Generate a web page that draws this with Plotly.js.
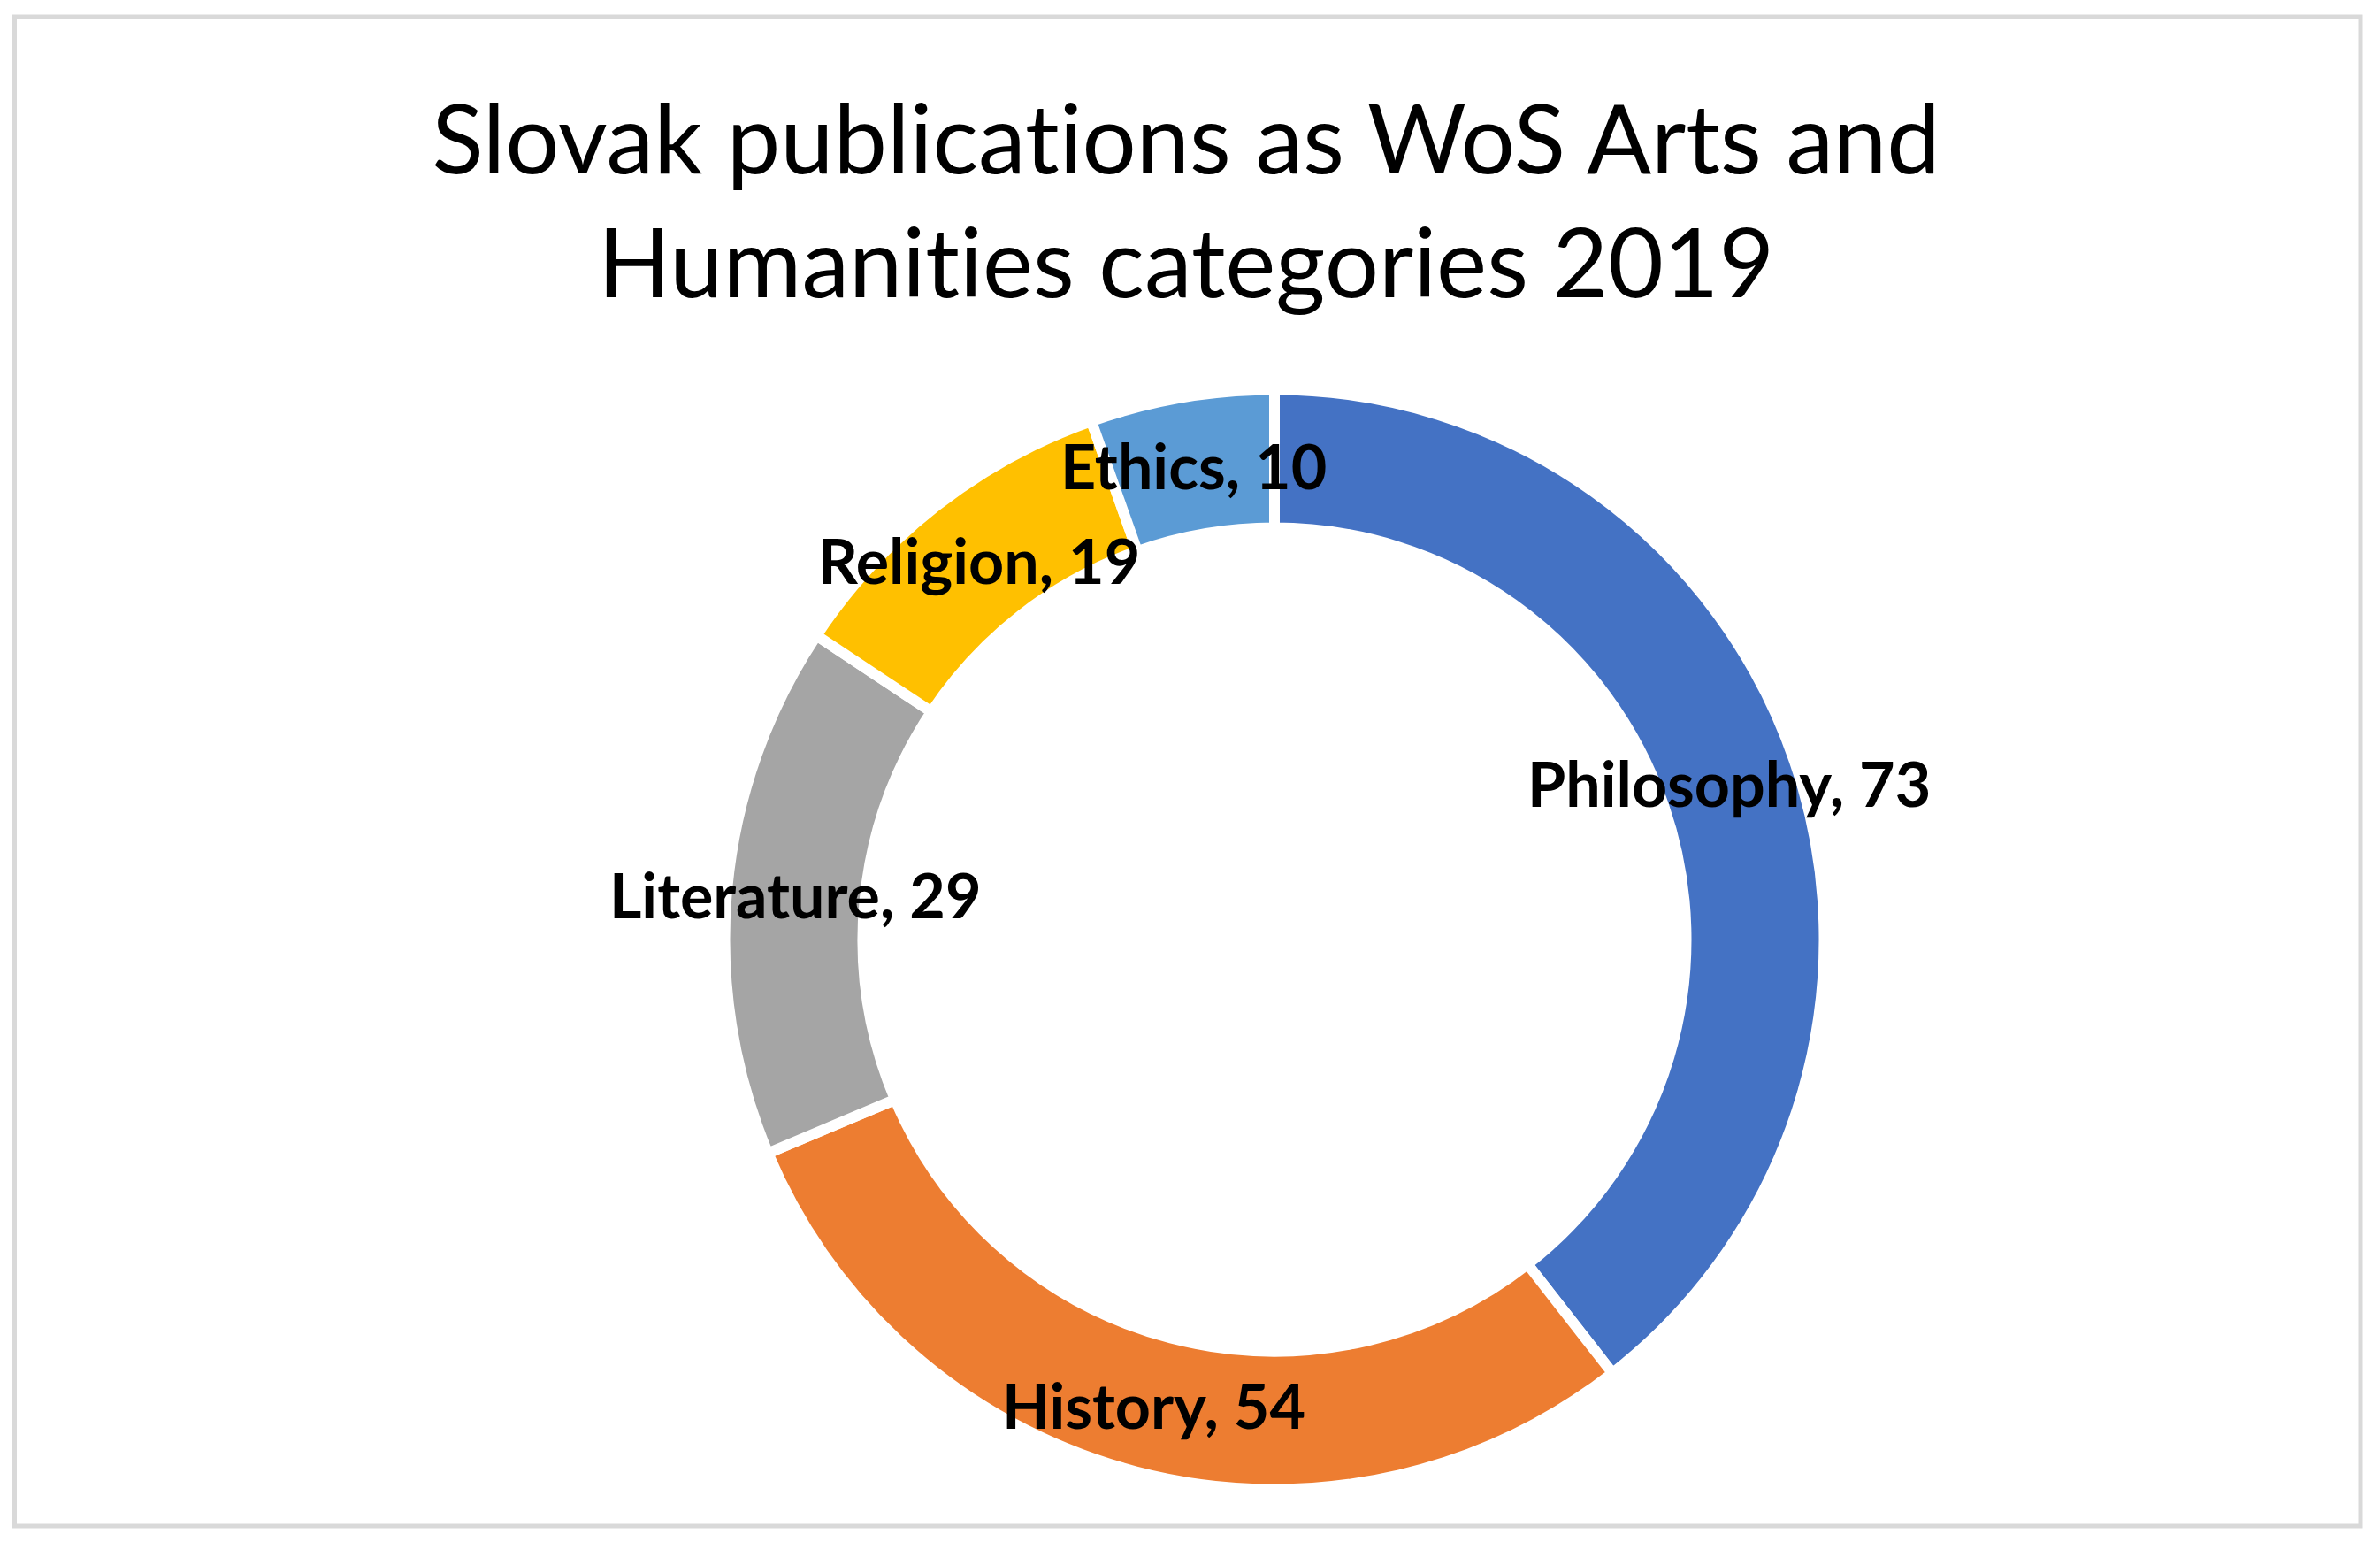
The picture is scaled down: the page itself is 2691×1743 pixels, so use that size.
<!DOCTYPE html>
<html>
<head>
<meta charset="utf-8">
<script src="https://cdn.plot.ly/plotly-3.0.1.min.js"></script>
<style>
  html, body { margin: 0; padding: 0; background: #ffffff; }
  #chart { width: 2691px; height: 1743px; }
  #chart text { font-variant-ligatures: none; font-feature-settings: "liga" 0, "clig" 0; }
</style>
</head>
<body>
<div id="chart"></div>
<script>
// ---- data ----
const categories = ["Philosophy", "History", "Literature", "Religion", "Ethics"];
const publications = [73, 54, 29, 19, 10];
const sliceColors = ["#4472C4", "#ED7D31", "#A5A5A5", "#FFC000", "#5B9BD5"];
const chartTitle = "Slovak publications as WoS Arts and<br>Humanities categories 2019";

// ---- geometry (layout only) ----
const W = 2691, H = 1743;
const cxPx = 1441, cyPx = 1062;   // donut centre in pixels (from top-left)
const Rpx = 621.5;                // pie radius (stroke eats a few px)
const hole = 0.749;

const domX = [(cxPx - Rpx) / W, (cxPx + Rpx) / W];
const domY = [1 - (cyPx + Rpx) / H, 1 - (cyPx - Rpx) / H];

const trace = {
  type: "pie",
  labels: categories,
  values: publications,
  sort: false,
  direction: "clockwise",
  rotation: 0,
  hole: hole,
  marker: { colors: sliceColors, line: { color: "#ffffff", width: 12 } },
  textinfo: "none",
  hoverinfo: "label+value",
  showlegend: false,
  domain: { x: domX, y: domY }
};

// data labels at the middle of the ring, at each slice's mid angle
const total = publications.reduce((a, b) => a + b, 0);
const midR = Rpx * (1 + hole) / 2;
let cum = 0;
const annotations = categories.map((c, i) => {
  const mid = (cum + publications[i] / 2) / total * 2 * Math.PI;
  cum += publications[i];
  const px = cxPx + midR * Math.sin(mid);
  const py = cyPx - midR * Math.cos(mid);
  return {
    xref: "paper", yref: "paper",
    x: px / W, y: 1 - py / H,
    xanchor: "center", yanchor: "middle",
    showarrow: false,
    text: "<b>" + c + ", " + publications[i] + "</b>",
    font: { family: "Lato, 'Open Sans', sans-serif", size: 70, color: "#000000" }
  };
});

const layout = {
  width: W, height: H,
  margin: { l: 0, r: 0, t: 0, b: 0 },
  paper_bgcolor: "#ffffff",
  plot_bgcolor: "#ffffff",
  showlegend: false,
  title: {
    text: chartTitle,
    font: { family: "Lato, 'Open Sans', sans-serif", size: 108, color: "#000000" },
    x: 1341 / W, xanchor: "center", xref: "container",
    y: 1 - 196 / H, yanchor: "top", yref: "container"
  },
  annotations: annotations,
  shapes: [{
    type: "rect", xref: "paper", yref: "paper",
    x0: 16.5 / W, x1: 2669 / W, y0: 1 - 1725 / H, y1: 1 - 19 / H,
    line: { color: "#D9D9D9", width: 5 },
    fillcolor: "rgba(0,0,0,0)",
    layer: "below"
  }]
};

Plotly.newPlot("chart", [trace], layout, { displayModeBar: false, staticPlot: true });
</script>
</body>
</html>
